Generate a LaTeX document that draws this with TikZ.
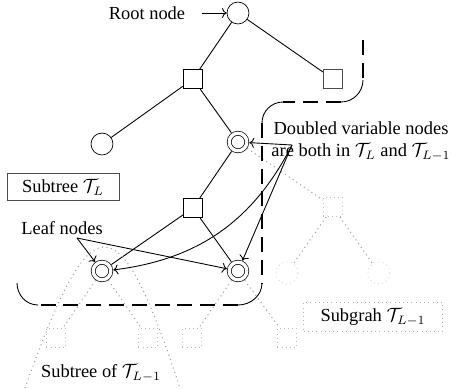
\documentclass[tikz,border=0pt]{standalone}
\usepackage{fontspec}
\setmainfont{Liberation Serif}
\usetikzlibrary{arrows.meta}
\begin{document}
\begin{tikzpicture}[
        x=0.57pt, y=-0.57pt,
        every node/.style={font=\fontsize{10.5}{12}\selectfont},
        vnode/.style={circle, draw, minimum size=12.5pt, inner sep=0pt},
        dnode/.style={circle, draw, double, double distance=1.9pt, minimum size=10pt, inner sep=0pt, outer sep=1.5pt},
        cnode/.style={rectangle, draw, minimum size=11pt, inner sep=0pt},
        ghostv/.style={vnode, draw=gray!55, dotted},
        ghostc/.style={cnode, draw=gray!55, dotted},
        edge/.style={line width=0.5pt},
        ghostedge/.style={gray!75, dotted, line width=0.6pt},
        arrow/.style={->, line width=0.5pt},
        bound/.style={line width=1.7pt, dash pattern=on 8.5pt off 4.5pt},
        bcorner/.style={line width=0.5pt}
    ]
        \useasboundingbox (0,0) rectangle (453,388);

        % tree T_L
        \node[vnode] (root) at (238,13) {};
        \node[cnode] (sqL) at (193,79) {};
        \node[cnode, draw=black!70] (sqR) at (333,79) {};
        \node[vnode] (cirL) at (102,144) {};
        \node[dnode] (dbl) at (238,142) {};
        \node[cnode] (sqM) at (193,208) {};
        \node[dnode] (leafL) at (102,271) {};
        \node[dnode] (leafR) at (238,271) {};

        % subgraph T_{L-1}
        \node[ghostc] (gsq) at (333,207) {};
        \node[ghostv] (gcL) at (287,273) {};
        \node[ghostv] (gcR) at (379,273) {};
        \node[ghostc] (bsq1) at (56,338) {};
        \node[ghostc] (bsq2) at (148,338) {};
        \node[ghostc] (bsq3) at (192,338) {};
        \node[ghostc] (bsq4) at (287,338) {};

        % labels
        \node (rootlbl) at (147,13) {Root node};
        \node[draw=black!70, minimum width=64pt, minimum height=15pt, inner sep=1pt] (treeL) at (63,187) {Subtree $\mathcal{T}_L$};
        \node (leaflbl) at (62,228) {Leaf nodes};
        \node[align=center, inner sep=1pt] (dbllbl) at (361,141) {Doubled variable nodes\\[0.5pt]are both in $\mathcal{T}_L$ and $\mathcal{T}_{L-1}$};
        \node[draw=gray!60, dotted, minimum width=79pt, minimum height=14pt] (subLm) at (373,317) {Subgrah $\mathcal{T}_{L-1}$};
        \node (subtreelbl) at (101,373) {Subtree of $\mathcal{T}_{L-1}$};

        \coordinate (leaffan) at (77,238);
        \coordinate (dblfan) at (292,145);

        \draw[edge] (root) -- (sqL);
        \draw[edge] (root) -- (sqR);
        \draw[edge] (sqL) -- (cirL);
        \draw[edge] (sqL) -- (dbl);
        \draw[edge] (dbl) -- (sqM);
        \draw[edge] (sqM) -- (leafL);
        \draw[edge] (sqM) -- (leafR);

        \draw[ghostedge] (dbl) -- (gsq);
        \draw[ghostedge] (gsq) -- (gcL);
        \draw[ghostedge] (gsq) -- (gcR);
        \draw[ghostedge] (leafL) -- (bsq1);
        \draw[ghostedge] (leafL) -- (bsq2);
        \draw[ghostedge] (leafR) -- (bsq3);
        \draw[ghostedge] (leafR) -- (bsq4);
        \draw[ghostedge] (25,388) .. controls (92,200) and (118,200) .. (180,388);

        % boundary of T_L
        \draw[bound] (363,40) -- (363,80);
        \draw[bcorner] (363,80) to[out=-90,in=0] (341,102);
        \draw[bound] (341,102) -- (283,102);
        \draw[bcorner] (283,102) to[out=180,in=90] (262,123);
        \draw[bound] (262,123) -- (262,283);
        \draw[bcorner] (262,283) to[out=-90,in=0] (238,305);
        \draw[bound] (238,305) -- (38,305);
        \draw[bcorner] (38,305) to[out=180,in=-90] (17,283);

        \draw[arrow, shorten <=6pt] (rootlbl) -- (root);
        \draw[arrow] (leaffan) -- (leafL);
        \draw[arrow] (leaffan) -- (leafR);
        \draw[arrow] (dblfan) -- (dbl);
        \draw[arrow] (dblfan) -- (leafR);
        \draw[arrow] (dblfan) to[bend left=28] (leafL);
    \end{tikzpicture}
\end{document}
